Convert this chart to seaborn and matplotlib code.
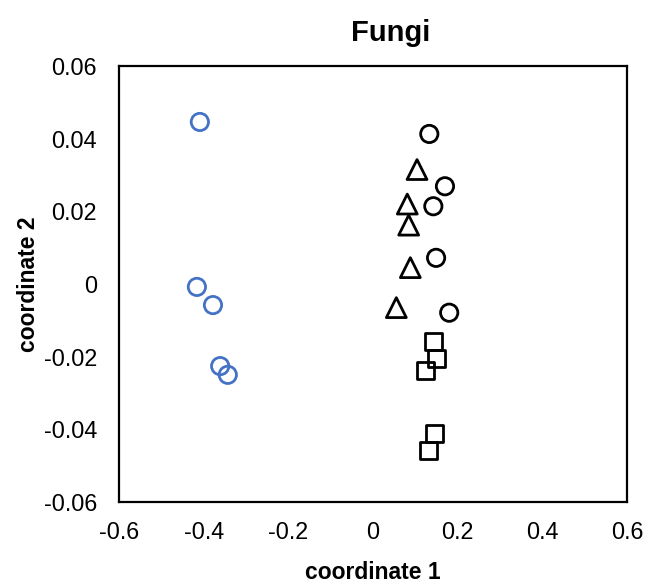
import matplotlib
matplotlib.use("Agg")
import matplotlib.pyplot as plt
import seaborn as sns
import pandas as pd

# Data
group_a_x = [-0.409, -0.416, -0.378, -0.361, -0.343]
group_a_y = [0.0446, -0.0008, -0.0058, -0.0226, -0.0250]

group_b_x = [0.133, 0.170, 0.1425, 0.149, 0.180]
group_b_y = [0.0413, 0.0269, 0.0214, 0.0072, -0.0079]

group_c_x = [0.104, 0.081, 0.0843, 0.0882, 0.0551]
group_c_y = [0.0315, 0.0220, 0.0162, 0.0045, -0.0065]

group_d_x = [0.143, 0.149, 0.124, 0.145, 0.132]
group_d_y = [-0.0159, -0.0206, -0.0238, -0.0412, -0.0458]

x_ticks = [-0.6, -0.4, -0.2, 0, 0.2, 0.4, 0.6]
x_tick_labels = ["-0.6", "-0.4", "-0.2", "0", "0.2", "0.4", "0.6"]
y_ticks = [-0.06, -0.04, -0.02, 0, 0.02, 0.04, 0.06]
y_tick_labels = ["-0.06", "-0.04", "-0.02", "0", "0.02", "0.04", "0.06"]

sns.set_theme(style="white")
plt.rcParams['font.family'] = ['Liberation Sans', 'DejaVu Sans']
plt.rcParams['text.color'] = 'black'
plt.rcParams['axes.labelcolor'] = 'black'

fig = plt.figure(figsize=(6.51, 5.86), dpi=100)
ax = fig.add_axes([119/651, 84/586, 508/651, 436/586])

groups = [
    (group_a_x, group_a_y, "o", "#4472C4", 155),
    (group_b_x, group_b_y, "o", "black", 155),
    (group_c_x, group_c_y, "^", "black", 205),
    (group_d_x, group_d_y, "s", "black", 150),
]
for gx, gy, mk, col, s in groups:
    df = pd.DataFrame({"x": gx, "y": gy})
    sns.scatterplot(data=df, x="x", y="y", marker=mk, s=s, color=col,
                    edgecolor=col, linewidth=2.0, ax=ax, zorder=3)
    ax.collections[-1].set_facecolor("none")
    ax.collections[-1].set_edgecolor(col)

ax.set_xlim(-0.6, 0.6)
ax.set_ylim(-0.06, 0.06)
ax.set_xticks(x_ticks)
ax.set_xticklabels(x_tick_labels)
ax.set_yticks(y_ticks)
ax.set_yticklabels(y_tick_labels)
ax.tick_params(axis="both", length=0, labelsize=16.8, colors="black")
ax.tick_params(axis="x", pad=14)
ax.tick_params(axis="y", pad=16)

for sp in ax.spines.values():
    sp.set_visible(True)
    sp.set_color("black")
    sp.set_linewidth(1.6)

ax.set_xlabel("coordinate 1", fontsize=16.5, fontweight="bold", labelpad=12, color="black")
ax.set_ylabel("coordinate 2", fontsize=16.5, fontweight="bold", color="black")
ax.yaxis.set_label_coords(-0.155, 0.5)
ax.set_title("Fungi", fontsize=21, fontweight="bold", pad=18, color="black", x=0.535)
ax.grid(False)

fig.savefig("out.png", dpi=100)
